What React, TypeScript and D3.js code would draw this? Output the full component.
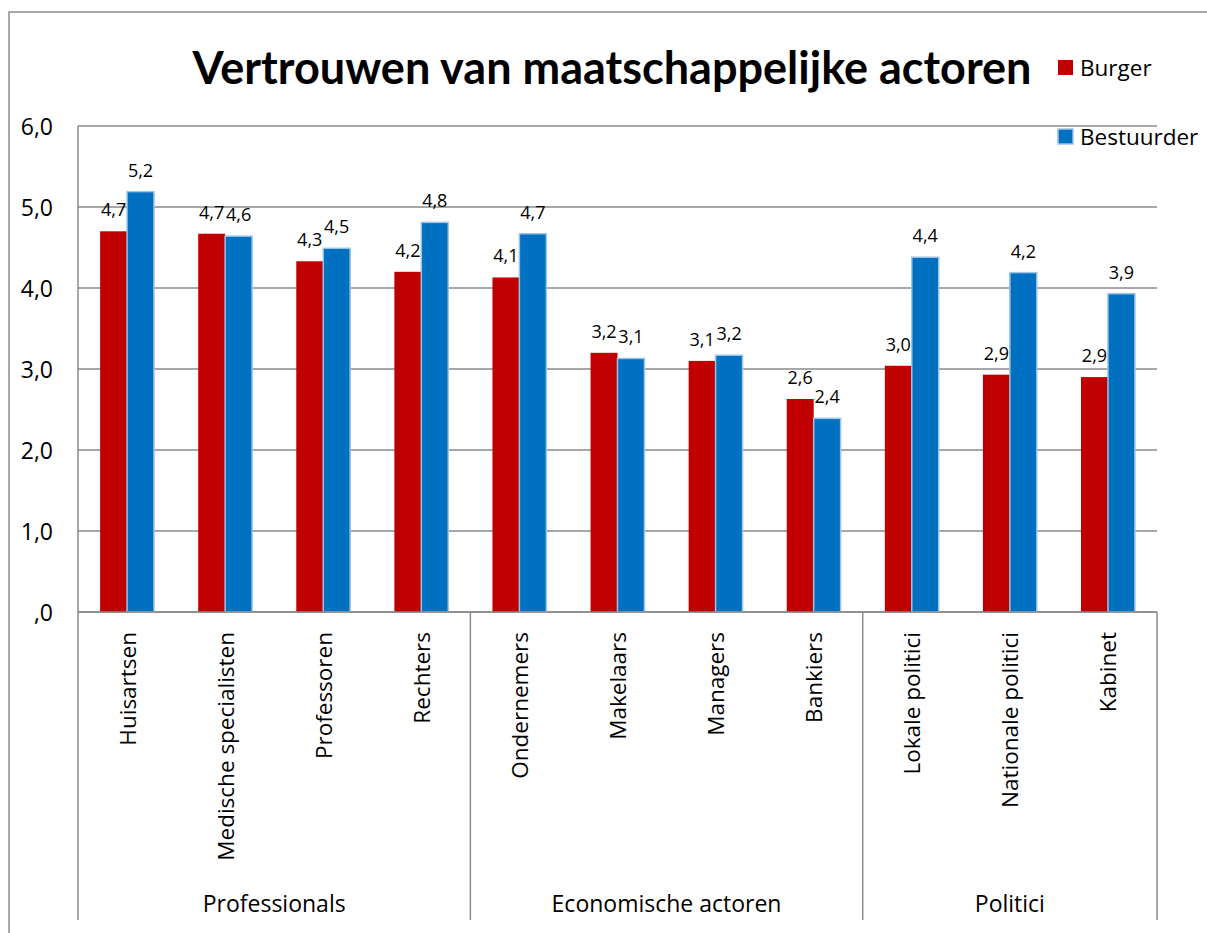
import React from "react";
import * as d3 from "d3";

const categories = [
  "Huisartsen",
  "Medische specialisten",
  "Professoren",
  "Rechters",
  "Ondernemers",
  "Makelaars",
  "Managers",
  "Bankiers",
  "Lokale politici",
  "Nationale politici",
  "Kabinet",
];
const groups = [
  { name: "Professionals", count: 4 },
  { name: "Economische actoren", count: 4 },
  { name: "Politici", count: 3 },
];
const seriesNames = ["Burger", "Bestuurder"];
const burger = [4.7, 4.67, 4.33, 4.2, 4.13, 3.2, 3.1, 2.63, 3.04, 2.93, 2.9];
const bestuurder = [5.19, 4.64, 4.49, 4.81, 4.67, 3.13, 3.17, 2.39, 4.38, 4.19, 3.93];
const yTicks = [0, 1, 2, 3, 4, 5, 6];
const title = "Vertrouwen van maatschappelijke actoren";

const colors = ["#C00000", "#0070C0"];
const strokes = ["none", "#9DC3E6"];
const FONT = "'Open Sans', sans-serif";

const fmt = (v: number) => {
  const s = v.toFixed(1).replace(".", ",");
  return s.startsWith("0") ? s.slice(1) : s;
};

export default function App() {
  const W = 1207;
  const H = 933;
  const left = 78;
  const right = 1157;
  const top = 126;
  const bottom = 612;
  const catBottom = 920;

  const x0 = d3.scaleBand<string>().domain(categories).range([left, right]).padding(0);
  const x1 = d3
    .scaleBand<string>()
    .domain(seriesNames)
    .range([0, x0.bandwidth()])
    .paddingInner(0)
    .paddingOuter(0.82);
  const y = d3.scaleLinear().domain([0, 6]).range([bottom, top]);
  const data = [burger, bestuurder];

  const bounds: number[] = [left];
  let idx = 0;
  groups.forEach((g) => {
    idx += g.count;
    bounds.push(idx < categories.length ? (x0(categories[idx]) as number) : right);
  });

  return (
    <svg
      width={W}
      height={H}
      style={{ position: "absolute", left: 0, top: 0, background: "#fff" }}
      fontFamily={FONT}
    >
      <rect x={9} y={12} width={1210} height={940} fill="#fff" stroke="#8c8c8c" strokeWidth={1.5} />
      <text
        x={612}
        y={67}
        textAnchor="middle"
        dominantBaseline="central"
        fontWeight="bold"
        fontSize={45}
        fontFamily="Lato, sans-serif"
        fill="#000"
      >
        {title}
      </text>

      {yTicks.map((t) => (
        <g key={t}>
          <line x1={left} x2={right} y1={y(t)} y2={y(t)} stroke="#8a8a8a" strokeWidth={1.5} />
          <text
            x={53}
            y={y(t)}
            textAnchor="end"
            dominantBaseline="central"
            fontSize={23}
            fill="#000"
          >
            {fmt(t)}
          </text>
        </g>
      ))}
      <line x1={left} x2={left} y1={top} y2={bottom} stroke="#8a8a8a" strokeWidth={1.5} />

      {categories.map((c, i) => (
        <g key={c} transform={`translate(${x0(c)},0)`}>
          {seriesNames.map((s, si) => {
            const v = data[si][i];
            const bx = x1(s) as number;
            const bw = x1.bandwidth();
            return (
              <g key={s}>
                <rect
                  x={bx}
                  y={y(v)}
                  width={bw}
                  height={bottom - y(v)}
                  fill={colors[si]}
                  stroke={strokes[si]}
                  strokeWidth={si === 1 ? 1.5 : 0}
                />
                <text
                  x={bx + bw / 2}
                  y={y(v) - 22}
                  textAnchor="middle"
                  dominantBaseline="central"
                  fontSize={18}
                  fill="#000"
                >
                  {fmt(v)}
                </text>
              </g>
            );
          })}
          <text
            transform={`translate(${x0.bandwidth() / 2},632) rotate(-90)`}
            textAnchor="end"
            dominantBaseline="central"
            fontSize={22.5}
            fill="#000"
          >
            {c}
          </text>
        </g>
      ))}
      <line x1={left} x2={right} y1={bottom} y2={bottom} stroke="#8a8a8a" strokeWidth={1.5} />

      {bounds.map((b, i) => (
        <line key={i} x1={b} x2={b} y1={bottom} y2={catBottom} stroke="#8a8a8a" strokeWidth={1.5} />
      ))}
      {groups.map((g, i) => (
        <text
          key={g.name}
          x={(bounds[i] + bounds[i + 1]) / 2}
          y={903}
          textAnchor="middle"
          dominantBaseline="central"
          fontSize={23}
          fill="#000"
        >
          {g.name}
        </text>
      ))}

      {seriesNames.map((s, si) => (
        <g key={s} transform={`translate(1058,${si === 0 ? 60 : 129})`}>
          <rect
            width={15}
            height={15}
            fill={colors[si]}
            stroke={strokes[si]}
            strokeWidth={si === 1 ? 1.5 : 0}
          />
          <text x={22} y={7.5} dominantBaseline="central" fontSize={22.5} fill="#000">
            {s}
          </text>
        </g>
      ))}
    </svg>
  );
}
